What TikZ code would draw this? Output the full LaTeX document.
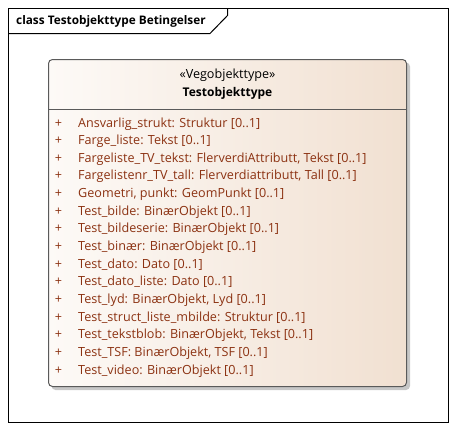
\documentclass[tikz,border=0pt]{standalone}
\usepackage{fontspec}
\setmainfont{Open Sans}
\definecolor{attr}{RGB}{140,50,18}
\definecolor{fillL}{RGB}{253,250,247}
\definecolor{fillR}{RGB}{241,224,209}
\definecolor{edge}{RGB}{90,90,90}
\tikzset{
  lbl/.style={inner sep=0pt, font=\fontsize{12.6}{14}\selectfont, text height=9pt, text depth=3pt},
  boldlbl/.style={lbl, font=\fontsize{12}{14}\selectfont\bfseries},
  attrtxt/.style={lbl, anchor=west, text=attr},
  plus/.style={lbl, text=attr},
}
\begin{document}
\begin{tikzpicture}[x=1pt,y=-1pt]
\useasboundingbox (0,0) rectangle (457,431);
% frame
\draw[line width=1.2pt] (8.5,8.5) rectangle (448.5,422.5);
\draw[line width=1pt] (8.5,33.5) -- (210,33.5) -- (227.5,15.5) -- (227.5,8.5);
\node[boldlbl, anchor=west, font=\fontsize{11.8}{14}\selectfont\bfseries] (title) at (16,21) {class Testobjekttype Betingelser};
% class box
\fill[black!22, rounded corners=4pt] (51.5,62.5) rectangle (410,390);
\shade[left color=fillL, right color=fillR, rounded corners=4pt] (48.5,59.5) rectangle (406.5,386.5);
\draw[edge, line width=1pt, rounded corners=4pt] (48.5,59.5) rectangle (406.5,386.5);
\draw[edge, line width=1pt] (48.5,109.5) -- (406.5,109.5);
\node[lbl] (stereo) at (227.5,75) {«Vegobjekttype»};
\node[boldlbl] (cname) at (227.5,93) {Testobjekttype};
\foreach \t [count=\i] in {
  {Ansvarlig\_strukt: Struktur [0..1]},
  {Farge\_liste: Tekst [0..1]},
  {Fargeliste\_TV\_tekst: FlerverdiAttributt, Tekst [0..1]},
  {Fargelistenr\_TV\_tall: Flerverdiattributt, Tall [0..1]},
  {Geometri, punkt: GeomPunkt [0..1]},
  {Test\_bilde: BinærObjekt [0..1]},
  {Test\_bildeserie: BinærObjekt [0..1]},
  {Test\_binær: BinærObjekt [0..1]},
  {Test\_dato: Dato [0..1]},
  {Test\_dato\_liste: Dato [0..1]},
  {Test\_lyd: BinærObjekt, Lyd [0..1]},
  {Test\_struct\_liste\_mbilde: Struktur [0..1]},
  {Test\_tekstblob: BinærObjekt, Tekst [0..1]},
  {Test\_TSF: BinærObjekt, TSF [0..1]},
  {Test\_video: BinærObjekt [0..1]}} {
  \pgfmathsetmacro{\yy}{124+(\i-1)*17.65}
  \node[plus] (p\i) at (58.5,\yy) {+};
  \node[attrtxt] (a\i) at (78,\yy) {\t};
}
\end{tikzpicture}
\end{document}
